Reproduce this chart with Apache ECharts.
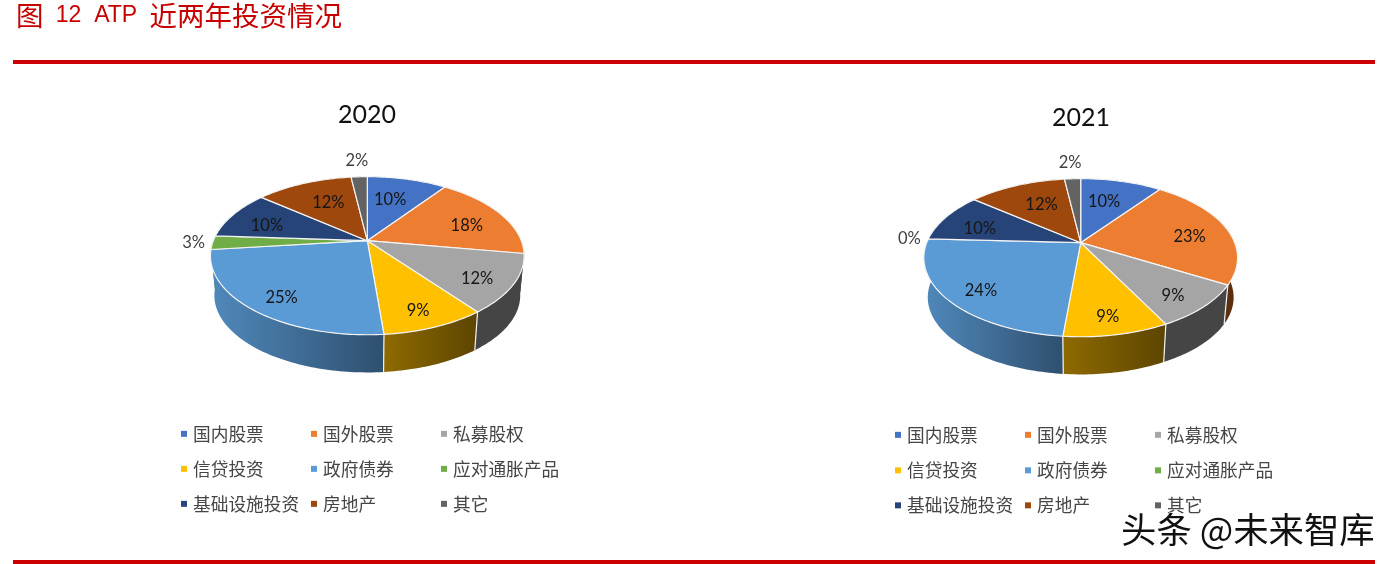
<!DOCTYPE html>
<html><head><meta charset="utf-8">
<style>html,body{margin:0;padding:0;background:#fff}#c{width:1392px;height:564px}</style>
<script src="https://cdn.jsdelivr.net/npm/echarts@6/dist/echarts.min.js"></script>
</head><body><div id="c"></div>
<script>
const categories = ['国内股票','国外股票','私募股权','信贷投资','政府债券','应对通胀产品','基础设施投资','房地产','其它'];
const values2020 = [9.9,17.7,12,9,24.6,2.8,10,12,2];
const values2021 = [10.1,23.3,9,9.1,24.3,0,10.1,12.1,2];
const colors = ['#4472C4','#ED7D31','#A5A5A5','#FFC000','#5B9BD5','#70AD47','#264478','#9E480E','#636363'];
const wallLeft = ['#2f4f88','#6a3415','#454545','#8E6A00','#5089BC','#4a7530','#1a2f54','#6d320a','#444444'];
const wallRight = ['#2f4f88','#5c2d10','#454545','#5C4500','#2F506F','#4a7530','#1a2f54','#6d320a','#444444'];

const A = 154, B = 76.2, K = 0.19, DEPTH = 40, FLOOR = 0.975, OUT_GAP_X = 19, OUT_GAP_Y = 16;
const FONT_CJK = '"Noto Sans CJK SC"';
const FONT_NUM = 'Lato';

function project(c, theta, r, lower) {
  const u = Math.sin(theta) * r, v = Math.cos(theta) * r;
  const s = 1 / (1 + K * v) * (lower ? FLOOR : 1);
  return [c.cx + A * u * s, c.cy - B * v * s + (lower ? DEPTH : 0)];
}
function makeRender(c) {
  return function (params, api) {
    const a0 = api.value(0) / 100 * Math.PI * 2, a1 = api.value(1) / 100 * Math.PI * 2;
    const val = api.value(2), idx = api.value(3);
    const rim = [], floor = [];
    const n = Math.max(1, Math.ceil((a1 - a0) / 0.02));
    for (let i = 0; i <= n; i++) {
      const t = a0 + (a1 - a0) * i / n;
      rim.push(project(c, t, 1, false));
      floor.push(project(c, t, 1, true));
    }
    const mid = (a0 + a1) / 2;
    const kids = [];
    if (val > 0) {
      const xs = rim.concat(floor).map(p => p[0]);
      const x0 = Math.min.apply(null, xs), x1 = Math.max.apply(null, xs);
      kids.push({
        type: 'polygon', z2: 2 - Math.cos(mid), shape: { points: rim.concat(floor.slice().reverse()) },
        style: { fill: new echarts.graphic.LinearGradient(x0, 0, x1, 0, [
          { offset: 0, color: wallLeft[idx] }, { offset: 1, color: wallRight[idx] }], true) }
      });
      if (Math.cos(a0) < -0.3) {
        kids.push({ type: 'line', z2: 5, shape: { x1: rim[0][0], y1: rim[0][1], x2: floor[0][0], y2: floor[0][1] },
          style: { stroke: '#f2f2f2', lineWidth: 1.2 } });
      }
      kids.push({
        type: 'polygon', z2: 10, shape: { points: [[c.cx, c.cy]].concat(rim) },
        style: { fill: colors[idx], stroke: '#f4f4f4', lineWidth: 1.2, lineJoin: 'round' }
      });
    }
    const e = project(c, mid, 1, false);
    const dx = e[0] - c.cx, dy = e[1] - c.cy;
    let lp, col;
    if (val <= 3) {
      const L = Math.hypot(dx, dy);
      lp = [e[0] + dx / L * OUT_GAP_X, e[1] + dy / L * OUT_GAP_Y];
      col = '#404040';
    } else {
      const fx = 0.75 - 0.2 * Math.max(0, (Math.cos(mid) - 0.6) / 0.4);
      lp = [c.cx + dx * fx, c.cy + dy * 0.75 + 5];
      col = '#161616';
    }
    kids.push({ type: 'text', z2: 20, x: lp[0], y: lp[1],
      style: { text: Math.round(val) + '%', fill: col, font: '16.5px ' + FONT_NUM, align: 'center', verticalAlign: 'middle' } });
    return { type: 'group', children: kids };
  };
}
function yearSeries(vals, c) {
  let acc = 0;
  return vals.map((v, i) => {
    const row = [acc, acc + v, v, i];
    acc += v;
    return {
      type: 'custom', name: categories[i], coordinateSystem: 'none', silent: true, animation: false,
      itemStyle: { color: colors[i] }, renderItem: makeRender(c), data: [row]
    };
  });
}
const chartA = { cx: 367.3, cy: 240.7 }, chartB = { cx: 1080.7, cy: 242.7 };
function legends(x0, rows) {
  return categories.map((name, i) => ({
    data: [name], left: x0 + (i % 3) * 130, top: rows[Math.floor(i / 3)] - 10,
    padding: 0, icon: 'rect', itemWidth: 6, itemHeight: 6, selectedMode: false,
    textStyle: { fontFamily: FONT_CJK, fontSize: 17.7, color: '#454545', padding: [0, 0, 0, 1] }
  }));
}
const chart = echarts.init(document.getElementById('c'), null, { renderer: 'canvas' });
chart.setOption({
  backgroundColor: '#fff', animation: false,
  title: [
    { text: '图  {l|12  ATP}  近两年投资情况', left: 16, top: 2, padding: 0,
      textStyle: { fontFamily: FONT_CJK, fontSize: 27.5, fontWeight: 'normal', color: '#C80000',
        rich: { l: { fontFamily: '"Liberation Sans"', fontSize: 23, color: '#C80000' } } } },
    { text: '2020', left: 367, top: 115, textAlign: 'center', textVerticalAlign: 'middle', padding: 0,
      textStyle: { fontFamily: FONT_NUM, fontSize: 25, fontWeight: 'normal', color: '#111' } },
    { text: '2021', left: 1081, top: 118, textAlign: 'center', textVerticalAlign: 'middle', padding: 0,
      textStyle: { fontFamily: FONT_NUM, fontSize: 25, fontWeight: 'normal', color: '#111' } }
  ],
  legend: legends(181, [435, 470, 505]).concat(legends(895, [436, 471.5, 506.5])),
  series: yearSeries(values2020, chartA).concat(yearSeries(values2021, chartB)),
  graphic: [
    { type: 'rect', shape: { x: 13, y: 60, width: 1362, height: 4 }, style: { fill: '#CC0000' } },
    { type: 'rect', shape: { x: 13, y: 560, width: 1362, height: 4 }, style: { fill: '#CC0000' } },
    { type: 'text', z: 100, x: 1121, y: 530,
      style: { text: '头条 @未来智库', fill: '#111', font: '35.4px ' + FONT_CJK, verticalAlign: 'middle',
        stroke: '#fff', lineWidth: 0.8 } }
  ]
});
</script></body></html>
